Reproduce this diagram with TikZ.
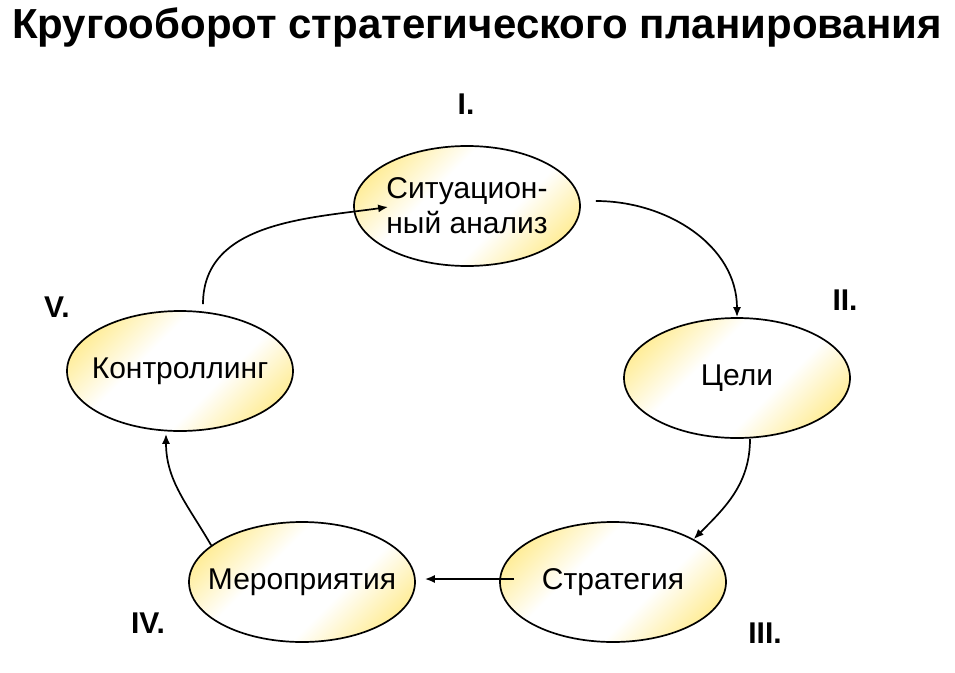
\documentclass[tikz,border=0pt]{standalone}
\usepackage{fontspec}
\setmainfont{Liberation Sans}
\usepackage{tikz}
\usetikzlibrary{shapes.geometric}
\usetikzlibrary{arrows.meta}
\definecolor{stageyellow}{RGB}{255,226,90}
\pgfdeclareverticalshading{stageshade}{100bp}{color(0bp)=(stageyellow); color(14bp)=(stageyellow); color(40bp)=(white); color(60bp)=(white); color(86bp)=(stageyellow); color(100bp)=(stageyellow)}
\begin{document}
\begin{tikzpicture}[x=1pt,y=-1pt,
  stage/.style={ellipse,draw=black,line width=1.7pt,minimum width=226pt,minimum height=120pt,inner sep=-20pt,
    shading=stageshade,shading angle=45,
    font=\fontsize{30}{35}\selectfont,align=center},
  conn/.style={line width=1.7pt,-{Latex[length=10pt,width=8pt]}},
  num/.style={font=\fontsize{30}{35}\selectfont\bfseries}]
  \useasboundingbox (0,0) rectangle (955,672);
  \node[font=\fontsize{42}{45}\selectfont\bfseries] (title) at (477,27) {Кругооборот стратегического планирования};
  \node[stage] (sit) at (467,206) {Ситуацион-\\ный анализ};
  \node[stage] (goal) at (737,378) {Цели};
  \node[stage] (strat) at (613,582) {Стратегия};
  \node[stage] (meas) at (302,582) {Мероприятия};
  \node[stage] (ctrl) at (180,371) {Контроллинг};
  \node[num] (n1) at (466,104) {I.};
  \node[num] (n2) at (845,300) {II.};
  \node[num] (n3) at (765,633) {III.};
  \node[num] (n4) at (148,623) {IV.};
  \node[num] (n5) at (57,307) {V.};
  \draw[conn] ([xshift=15pt,yshift=5pt]sit.east) to[out=0,in=90] (goal.north);
  \draw[conn] ([xshift=13pt]goal.south) to[out=-90,in=45] (strat.28);
  \draw[conn] ([xshift=15pt,yshift=3pt]strat.west) -- ([xshift=9pt,yshift=3pt]meas.east);
  \draw[conn] (meas.158) to[out=120,in=-90] ([xshift=-14pt,yshift=-2pt]ctrl.south);
  \draw[conn] ([xshift=23pt,yshift=6pt]ctrl.north) to[out=90,in=188] ([xshift=35pt,yshift=-1pt]sit.west);
\end{tikzpicture}
\end{document}
